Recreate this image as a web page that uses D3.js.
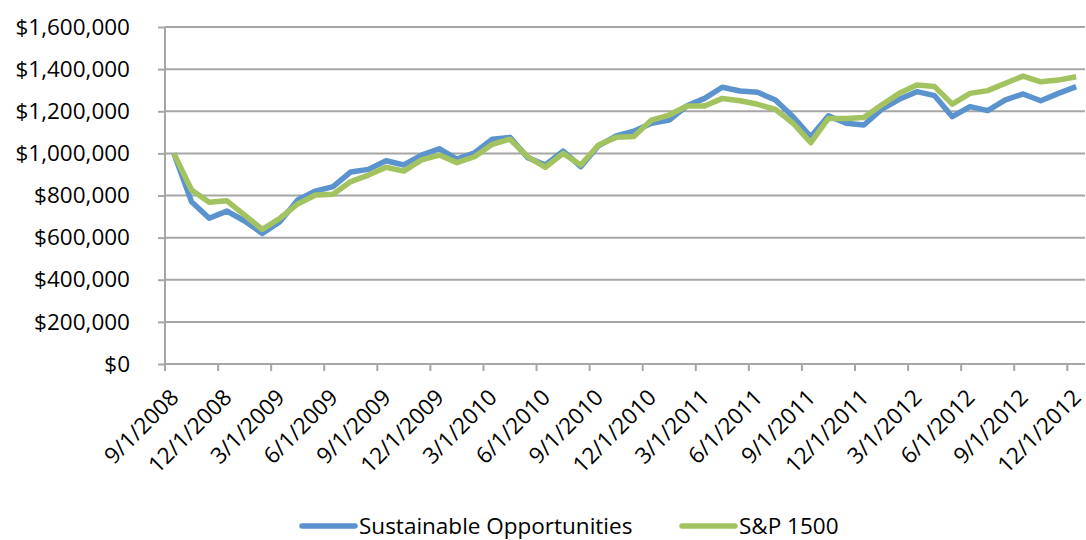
<!DOCTYPE html>
<html>
<head>
<meta charset="utf-8">
<script src="https://cdn.jsdelivr.net/npm/d3@7"></script>
<style>
  body { margin: 0; background: #fff; }
  svg text { font-family: "Open Sans", sans-serif; fill: #000; }
</style>
</head>
<body>
<div id="chart"><svg></svg></div>
<script>
// month-end dates, Sep 2008 .. Dec 2012
const months = [
  '9/1/2008', '10/1/2008', '11/1/2008', '12/1/2008',
  '1/1/2009', '2/1/2009', '3/1/2009', '4/1/2009', '5/1/2009', '6/1/2009', '7/1/2009', '8/1/2009',
  '9/1/2009', '10/1/2009', '11/1/2009', '12/1/2009',
  '1/1/2010', '2/1/2010', '3/1/2010', '4/1/2010', '5/1/2010', '6/1/2010', '7/1/2010', '8/1/2010',
  '9/1/2010', '10/1/2010', '11/1/2010', '12/1/2010',
  '1/1/2011', '2/1/2011', '3/1/2011', '4/1/2011', '5/1/2011', '6/1/2011', '7/1/2011', '8/1/2011',
  '9/1/2011', '10/1/2011', '11/1/2011', '12/1/2011',
  '1/1/2012', '2/1/2012', '3/1/2012', '4/1/2012', '5/1/2012', '6/1/2012', '7/1/2012', '8/1/2012',
  '9/1/2012', '10/1/2012', '11/1/2012', '12/1/2012'
];

const sustainable = [
  1000000, 770000, 692000, 726000, 679000, 620000, 676000, 779000, 821000, 842000, 912000, 924000,
  965000, 945000, 992000, 1022000, 973000, 1003000, 1067000, 1076000, 980000, 945000, 1011000, 937000,
  1036000, 1083000, 1105000, 1143000, 1158000, 1226000, 1261000, 1314000, 1296000, 1290000, 1253000, 1174000,
  1079000, 1178000, 1143000, 1135000, 1209000, 1257000, 1293000, 1274000, 1174000, 1222000, 1203000, 1254000,
  1282000, 1250000, 1285000, 1317000
];

const sp1500 = [
  1000000, 826000, 768000, 775000, 707000, 639000, 692000, 760000, 802000, 806000, 866000, 897000,
  934000, 916000, 969000, 992000, 956000, 984000, 1043000, 1067000, 984000, 934000, 1000000, 945000,
  1040000, 1076000, 1080000, 1158000, 1182000, 1225000, 1225000, 1261000, 1250000, 1233000, 1209000, 1143000,
  1051000, 1166000, 1166000, 1170000, 1230000, 1285000, 1325000, 1317000, 1234000, 1285000, 1298000, 1333000,
  1367000, 1340000, 1348000, 1364000
];

const yTicks = [0, 200000, 400000, 600000, 800000, 1000000, 1200000, 1400000, 1600000];

const series = [
  { name: 'Sustainable Opportunities', values: sustainable, color: '#5A93CD' },
  { name: 'S&P 1500', values: sp1500, color: '#A3C361' }
];

const width = 1086, height = 540;
const plot = { left: 165, right: 1085, top: 27, bottom: 364 };
const fontSize = '22.5px';

const svg = d3.select('#chart').select('svg')
  .attr('width', width)
  .attr('height', height);

// category axis, points sit in the middle of each band
const xScale = d3.scaleBand()
  .domain(months)
  .range([plot.left, plot.right])
  .padding(0);
const yScale = d3.scaleLinear()
  .domain([0, 1600000])
  .range([plot.bottom, plot.top]);

const gridColor = '#A6A6A6';

// gridlines
svg.append('g')
  .selectAll('line')
  .data(yTicks)
  .join('line')
  .attr('x1', plot.left)
  .attr('x2', plot.right)
  .attr('y1', d => yScale(d))
  .attr('y2', d => yScale(d))
  .attr('stroke', gridColor)
  .attr('stroke-width', 2);

// y axis
const yAxis = d3.axisLeft(yScale)
  .tickValues(yTicks)
  .tickSize(7)
  .tickPadding(28)
  .tickFormat(d => '$' + d3.format(',')(d));

const yAxisG = svg.append('g')
  .attr('transform', `translate(${plot.left},0)`)
  .call(yAxis);
yAxisG.selectAll('line').attr('stroke', gridColor).attr('stroke-width', 2);
yAxisG.select('.domain').attr('stroke', gridColor).attr('stroke-width', 2).attr('d', `M0,${plot.top}V${plot.bottom}`);
yAxisG.selectAll('text').style('font-size', fontSize).style('font-family', '"Open Sans", sans-serif');

// x axis: tick every 3rd month at the band edge
const labelMonths = months.filter((d, i) => i % 3 === 0);
const xAxisG = svg.append('g').attr('transform', `translate(0,${plot.bottom})`);

xAxisG.append('line')
  .attr('x1', plot.left).attr('x2', plot.right)
  .attr('stroke', gridColor).attr('stroke-width', 2);

xAxisG.selectAll('.tick')
  .data(labelMonths)
  .join('line')
  .attr('class', 'tick')
  .attr('x1', d => xScale(d))
  .attr('x2', d => xScale(d))
  .attr('y1', 0)
  .attr('y2', 7)
  .attr('stroke', gridColor)
  .attr('stroke-width', 2);

xAxisG.selectAll('.xlabel')
  .data(labelMonths)
  .join('text')
  .attr('class', 'xlabel')
  .attr('text-anchor', 'end')
  .attr('transform', d => `translate(${xScale(d) + 15},${35}) rotate(-45)`)
  .style('font-size', fontSize)
  .text(d => d);

// lines
const line = d3.line()
  .x((d, i) => xScale(months[i]) + xScale.bandwidth() / 2)
  .y(d => yScale(d));

svg.append('g')
  .selectAll('path')
  .data(series)
  .join('path')
  .attr('fill', 'none')
  .attr('stroke', d => d.color)
  .attr('stroke-width', 5.5)
  .attr('stroke-linejoin', 'round')
  .attr('d', d => line(d.values));

// legend
const legendPos = [302, 682];
const legend = svg.append('g')
  .selectAll('g')
  .data(series)
  .join('g')
  .attr('transform', (d, i) => `translate(${legendPos[i]},526)`);

legend.append('line')
  .attr('x1', 0).attr('x2', 53)
  .attr('stroke', d => d.color)
  .attr('stroke-width', 5.5)
  .attr('stroke-linecap', 'round');

legend.append('text')
  .attr('x', 57)
  .attr('dy', '0.35em')
  .style('font-size', fontSize)
  .text(d => d.name);
</script>
</body>
</html>
